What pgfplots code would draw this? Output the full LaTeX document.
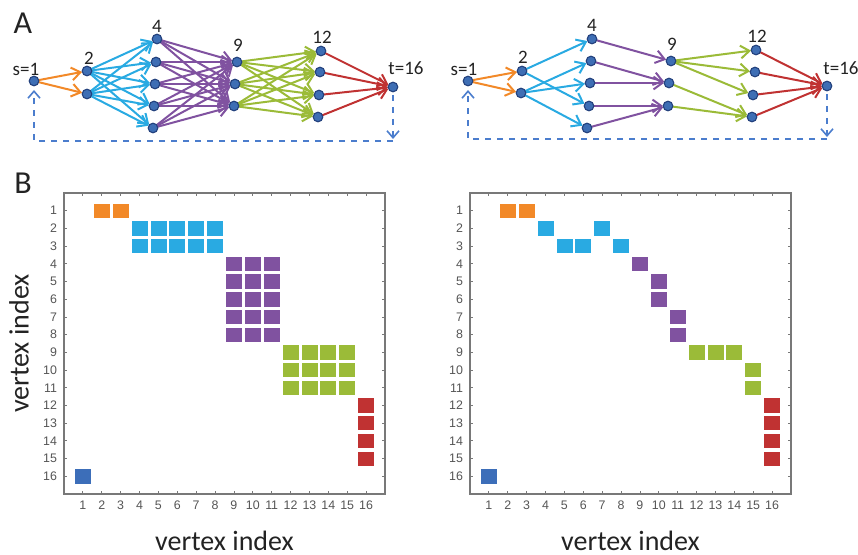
\documentclass[border=0pt]{standalone}
\usepackage{pgfplots}
\pgfplotsset{compat=1.18}
\usepackage{pgfplotstable}
\usetikzlibrary{arrows.meta}
\usepackage{fontspec}
\setmainfont{Carlito}
\newfontfamily\tickfont{Liberation Sans}

\definecolor{corange}{RGB}{242,137,40}
\definecolor{cblue}{RGB}{41,170,226}
\definecolor{cpurple}{RGB}{128,82,160}
\definecolor{cgreen}{RGB}{155,187,56}
\definecolor{cred}{RGB}{192,50,50}
\definecolor{cdblue}{RGB}{60,110,185}
\definecolor{nodefill}{RGB}{62,110,180}
\definecolor{nodedraw}{RGB}{35,65,125}
\definecolor{loopblue}{RGB}{75,125,205}
\definecolor{txt}{RGB}{35,35,35}
\definecolor{axgrey}{RGB}{120,120,120}
\definecolor{labgrey}{RGB}{85,85,85}

% ---------- network A, left (pixel coordinates) ----------
\pgfplotstableread{
x y
34 81
87 71
87 94
157 39
156 62
155 84
154 106
153 128
237 62
235 84
234 106
321 51
320 72
319 95
318 117
393 87
}\LNodes
\pgfplotstableread{
x y u v
34 81 53 -10
34 81 53 13
}\LOr
\pgfplotstableread{
x y u v
87 71 70 -32
87 71 69 -9
87 71 68 13
87 71 67 35
87 71 66 57
87 94 70 -55
87 94 69 -32
87 94 68 -10
87 94 67 12
87 94 66 34
}\LBl
\pgfplotstableread{
x y u v
157 39 80 23
157 39 78 45
157 39 77 67
156 62 81 0
156 62 79 22
156 62 78 44
155 84 82 -22
155 84 80 0
155 84 79 22
154 106 83 -44
154 106 81 -22
154 106 80 0
153 128 84 -66
153 128 82 -44
153 128 81 -22
}\LPu
\pgfplotstableread{
x y u v
237 62 84 -11
237 62 83 10
237 62 82 33
237 62 81 55
235 84 86 -33
235 84 85 -12
235 84 84 11
235 84 83 33
234 106 87 -55
234 106 86 -34
234 106 85 -11
234 106 84 11
}\LGr
\pgfplotstableread{
x y u v
321 51 72 36
320 72 73 15
319 95 74 -8
318 117 75 -30
}\LRe

% ---------- network A, right ----------
\pgfplotstableread{
x y
468 81
522 71
521 93
592 39
591 61
590 83
589 106
587 128
671 61
669 83
668 106
756 50
755 72
753 95
752 117
827 86
}\RNodes
\pgfplotstableread{
x y u v
468 81 54 -10
468 81 53 12
}\ROr
\pgfplotstableread{
x y u v
522 71 70 -32
522 71 67 35
521 93 70 -32
521 93 69 -10
521 93 66 35
}\RBl
\pgfplotstableread{
x y u v
592 39 79 22
591 61 78 22
590 83 79 0
589 106 79 0
587 128 81 -22
}\RPu
\pgfplotstableread{
x y u v
671 61 85 -11
671 61 84 11
671 61 82 34
669 83 83 34
668 106 84 11
}\RGr
\pgfplotstableread{
x y u v
756 50 71 36
755 72 72 14
753 95 74 -9
752 117 75 -31
}\RRe

% ---------- matrices B ----------
\pgfplotstableread{
x y
2 1
3 1
}\MOr
\pgfplotstableread{
x y
4 2
5 2
6 2
7 2
8 2
4 3
5 3
6 3
7 3
8 3
}\MLBl
\pgfplotstableread{
x y
9 4
10 4
11 4
9 5
10 5
11 5
9 6
10 6
11 6
9 7
10 7
11 7
9 8
10 8
11 8
}\MLPu
\pgfplotstableread{
x y
12 9
13 9
14 9
15 9
12 10
13 10
14 10
15 10
12 11
13 11
14 11
15 11
}\MLGr
\pgfplotstableread{
x y
16 12
16 13
16 14
16 15
}\MRe
\pgfplotstableread{
x y
1 16
}\MDb
\pgfplotstableread{
x y
4 2
7 2
5 3
6 3
8 3
}\MRBl
\pgfplotstableread{
x y
9 4
10 5
10 6
11 7
11 8
}\MRPu
\pgfplotstableread{
x y
12 9
13 9
14 9
15 10
15 11
}\MRGr

\tikzset{nlab/.style={font=\fontsize{9.5}{10}\selectfont, text=txt}}
\pgfplotsset{
  edge/.style={quiver={u=\thisrow{u},v=\thisrow{v}},
    -{Straight Barb[length=4.4pt,width=6.4pt]}, line width=1pt, shorten >=2.5pt},
  netnode/.style={only marks, mark=*, mark size=2.4pt,
    mark options={fill=nodefill, draw=nodedraw, line width=0.55pt}},
  dloop/.style={dashed, loopblue, line width=0.8pt, -{Straight Barb[length=3.5pt,width=6pt]}},
  mat/.style={width=160.5pt, height=150.5pt, scale only axis,
    xmin=0, xmax=17, ymin=0, ymax=17, y dir=reverse,
    xtick={1,...,16}, ytick={1,...,16},
    tick align=inside, major tick length=1.6pt,
    every tick/.style={axgrey, line width=0.4pt},
    axis line style={axgrey, line width=0.55pt},
    ticklabel style={font=\tickfont\fontsize{6.2}{7}\selectfont, text=labgrey},
    /pgf/number format/assume math mode=true,
    xlabel={vertex index},
    label style={font=\fontsize{14}{16}\selectfont, text=txt},
    xlabel style={at={(axis description cs:0.5,-0.155)}, anchor=center}},
  sq/.style={only marks, mark=square*, mark size=3.75pt,
    mark options={fill=#1, draw=#1, yscale=0.89}}
}

\begin{document}
\begin{tikzpicture}
\useasboundingbox (0,0) rectangle (429pt,-277.5pt);

\begin{axis}[at={(0,0)}, anchor=north west, width=429pt, height=75pt,
  scale only axis, xmin=0, xmax=858, ymin=0, ymax=150, y dir=reverse,
  hide axis, clip=false]
  % left network
  \addplot[edge, corange] table {\LOr};
  \addplot[edge, cblue] table {\LBl};
  \addplot[edge, cpurple] table {\LPu};
  \addplot[edge, cgreen] table {\LGr};
  \addplot[edge, cred] table {\LRe};
  \addplot[dloop] coordinates {(393,95) (393,139)};
  \addplot[dloop] coordinates {(393,141) (34,141) (34,90)};
  \addplot[netnode] table {\LNodes};
  % right network
  \addplot[edge, corange] table {\ROr};
  \addplot[edge, cblue] table {\RBl};
  \addplot[edge, cpurple] table {\RPu};
  \addplot[edge, cgreen] table {\RGr};
  \addplot[edge, cred] table {\RRe};
  \addplot[dloop] coordinates {(827,94) (827,137)};
  \addplot[dloop] coordinates {(827,139) (468,139) (468,90)};
  \addplot[netnode] table {\RNodes};
  % labels
  \node[nlab] at (axis cs:26,69) {s=1};
  \node[nlab] at (axis cs:89,58) {2};
  \node[nlab] at (axis cs:157,26) {4};
  \node[nlab] at (axis cs:238,45) {9};
  \node[nlab] at (axis cs:322,37) {12};
  \node[nlab] at (axis cs:406,68) {t=16};
  \node[nlab] at (axis cs:464,69) {s=1};
  \node[nlab] at (axis cs:523,57) {2};
  \node[nlab] at (axis cs:592,25) {4};
  \node[nlab] at (axis cs:672,44) {9};
  \node[nlab] at (axis cs:757,36) {12};
  \node[nlab] at (axis cs:841,68) {t=16};
  \node[font=\fontsize{16}{18}\selectfont, text=txt] at (axis cs:23,23) {A};
  \node[font=\fontsize{16}{18}\selectfont, text=txt] at (axis cs:23,183) {B};
\end{axis}

\begin{axis}[mat, at={(32pt,-96.5pt)}, anchor=north west,
  ylabel={vertex index},
  ylabel style={at={(axis description cs:-0.14,0.5)}, anchor=center}]
  \addplot[sq=corange] table {\MOr};
  \addplot[sq=cblue] table {\MLBl};
  \addplot[sq=cpurple] table {\MLPu};
  \addplot[sq=cgreen] table {\MLGr};
  \addplot[sq=cred] table {\MRe};
  \addplot[sq=cdblue] table {\MDb};
\end{axis}

\begin{axis}[mat, at={(235pt,-96.5pt)}, anchor=north west]
  \addplot[sq=corange] table {\MOr};
  \addplot[sq=cblue] table {\MRBl};
  \addplot[sq=cpurple] table {\MRPu};
  \addplot[sq=cgreen] table {\MRGr};
  \addplot[sq=cred] table {\MRe};
  \addplot[sq=cdblue] table {\MDb};
\end{axis}
\end{tikzpicture}
\end{document}
